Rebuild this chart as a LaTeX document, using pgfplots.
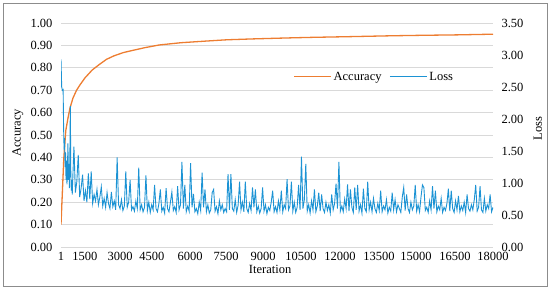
\documentclass[border=0pt]{standalone}
\usepackage{fontspec}
\setmainfont{Liberation Serif}
\usepackage{pgfplots}
\pgfplotsset{compat=1.18}

\definecolor{accorange}{HTML}{ED7D31}
\definecolor{lossblue}{HTML}{1C93D4}
\definecolor{gridgray}{HTML}{D9D9D9}
\definecolor{framegray}{HTML}{8C8C8C}

\pgfplotsset{
  base/.style={
    scale only axis,
    width=432bp, height=224bp,
    at={(61bp,47bp)}, anchor=south west,
    xmin=1, xmax=18000,
    scaled x ticks=false, scaled y ticks=false,
    axis line style={draw=none},
    tick style={draw=none},
    /pgf/number format/assume math mode=true,
    /pgf/number format/.cd, fixed, fixed zerofill, precision=2,
  },
}

\begin{document}
\begin{tikzpicture}[font=\fontsize{12.5bp}{14bp}\selectfont]
\useasboundingbox (0bp,0bp) rectangle (550bp,294bp);
\draw[framegray, line width=0.9bp] (3bp,8bp) rectangle (547bp,291bp);

% primary axis: accuracy
\begin{axis}[
  base,
  ymin=0, ymax=1,
  ytick={0,0.1,...,1.0},
  ymajorgrids,
  grid style={gridgray, line width=0.8bp},
  xtick={1,1000,2460,3790,5380,6880,8420,10000,11620,13250,14790,16420,18000},
  xticklabels={1,1500,3000,4500,6000,7500,9000,10500,12000,13500,15000,16500,18000},
  xticklabel shift=2bp,
  yticklabel shift=5bp,
  xlabel={Iteration},
  ylabel={Accuracy},
  every axis x label/.style={at={(axis description cs:0.484,-0.1)}, anchor=center},
  every axis y label/.style={at={(axis description cs:-0.1,0.51)}, rotate=90, anchor=center},
]
\addplot[accorange, line width=1.3bp] coordinates {
  (1,0.10)(60,0.25)(120,0.40)(200,0.52)(300,0.58)(375,0.62)(500,0.665)
  (650,0.70)(800,0.725)(1000,0.755)(1300,0.79)(1600,0.815)(1900,0.838)
  (2200,0.853)(2600,0.868)(3000,0.878)(3500,0.89)(4100,0.902)(5000,0.912)
  (6000,0.919)(6900,0.925)(8000,0.929)(9000,0.932)(9700,0.934)(10500,0.936)
  (12000,0.939)(13800,0.943)(15000,0.945)(16500,0.947)(18000,0.95)
};
\end{axis}

% secondary axis: loss
\begin{axis}[
  base,
  ymin=0, ymax=3.5,
  ytick={0,0.5,...,3.5},
  xtick=\empty,
  yticklabel pos=right,
  yticklabel shift=5bp,
  ylabel={Loss},
  every axis y label/.style={at={(axis description cs:1.104,0.53)}, rotate=90, anchor=center},
  legend columns=2,
  legend style={at={(axis description cs:0.725,0.76)}, anchor=center,
    draw=none, fill=none, inner sep=0pt,
    /tikz/every even column/.append style={column sep=6bp}},
  legend image code/.code={\draw[#1] (0bp,0bp) -- (37bp,0bp);},
]
\addlegendimage{accorange, line width=1.3bp}
\addlegendentry{Accuracy}
\addplot[lossblue, line width=0.9bp] coordinates {
  (1,2.93)(30,2.50)(60,2.45)(90,2.46)(110,1.85)(130,1.52)(150,1.70)(170,1.25)
  (190,1.48)(210,1.05)(230,1.35)(250,0.98)(270,1.22)(290,1.62)(310,1.05)(330,1.30)
  (350,0.92)(370,1.40)(390,2.20)(410,1.15)(430,0.88)(450,1.05)(470,0.82)
  (480,0.95)(540,1.57)(600,0.85)(660,1.02)(720,1.44)(780,0.78)(840,0.92)(900,1.13)(960,0.72)(1020,0.88)
  (1080,0.70)(1140,1.15)(1200,0.75)(1260,1.18)(1320,0.68)(1380,0.82)(1440,0.72)(1500,0.90)(1560,0.66)(1620,0.78)
  (1680,0.94)(1740,0.64)(1800,0.76)(1860,0.62)(1920,0.85)(1980,0.68)(2040,0.60)(2100,0.86)(2160,0.63)(2220,0.72)
  (2280,0.58)(2340,1.40)(2400,0.66)(2460,0.60)(2520,0.74)(2580,0.57)(2640,0.64)(2700,1.18)(2760,0.62)(2820,0.70)
  (2880,1.05)(2940,0.58)(3000,0.63)(3060,0.56)(3120,0.72)(3180,0.60)(3240,1.24)(3300,0.58)(3360,0.66)(3420,0.55)
  (3480,0.62)(3540,1.12)(3600,0.57)(3660,0.70)(3720,0.54)(3780,0.66)(3840,0.58)(3900,0.97)(3960,0.60)(4020,0.55)
  (4080,0.68)(4140,0.90)(4200,0.56)(4260,0.62)(4320,0.53)(4380,0.92)(4440,0.60)(4500,0.55)(4560,0.70)(4620,0.86)
  (4680,0.57)(4740,0.63)(4800,0.54)(4860,0.95)(4920,0.58)(4980,0.66)(5040,1.33)(5100,0.60)(5160,0.97)(5220,0.55)
  (5280,0.64)(5340,0.56)(5400,1.31)(5460,0.62)(5520,0.83)(5580,0.55)(5640,0.60)(5700,0.52)(5760,0.70)(5820,0.57)
  (5880,1.16)(5940,0.62)(6000,0.90)(6060,0.55)(6120,0.66)(6180,0.53)(6240,0.58)(6300,0.85)(6360,0.90)(6420,0.56)
  (6480,0.63)(6540,0.52)(6600,0.72)(6660,0.58)(6720,0.66)(6780,0.54)(6840,0.60)(6900,0.55)(6960,1.14)(7020,0.58)
  (7080,1.14)(7140,0.60)(7200,0.56)(7260,0.74)(7320,0.54)(7380,0.65)(7440,1.02)(7500,0.58)(7560,0.70)(7620,0.55)
  (7680,1.02)(7740,0.60)(7800,0.54)(7860,0.68)(7920,0.57)(7980,0.93)(8040,0.62)(8100,0.90)(8160,0.55)(8220,0.64)
  (8280,0.53)(8340,0.60)(8400,0.93)(8460,0.56)(8520,0.66)(8580,0.52)(8640,0.62)(8700,0.57)(8760,0.70)(8820,0.88)
  (8880,0.55)(8940,0.63)(9000,0.54)(9060,0.72)(9120,0.58)(9180,0.88)(9240,0.55)(9300,0.66)(9360,0.60)(9420,1.06)
  (9480,0.58)(9540,0.64)(9600,1.02)(9660,0.56)(9720,0.70)(9780,0.54)(9840,0.62)(9900,0.97)(9960,0.58)(10020,1.41)
  (10080,0.60)(10140,0.74)(10200,1.30)(10260,0.56)(10320,0.66)(10380,0.53)(10440,0.72)(10500,0.58)(10560,0.90)(10620,0.55)
  (10680,0.64)(10740,0.85)(10800,0.56)(10860,0.82)(10920,0.60)(10980,0.54)(11040,0.70)(11100,0.57)(11160,0.66)(11220,0.53)
  (11280,0.82)(11340,0.58)(11400,0.68)(11460,0.99)(11520,0.60)(11580,1.33)(11640,0.56)(11700,0.64)(11760,0.55)(11820,0.75)
  (11880,0.60)(11940,0.98)(12000,0.56)(12060,0.90)(12120,0.62)(12180,0.54)(12240,0.93)(12300,0.58)(12360,0.97)(12420,0.56)
  (12480,0.66)(12540,0.53)(12600,0.91)(12660,0.60)(12720,0.55)(12780,1.02)(12840,0.58)(12900,0.70)(12960,0.55)(13020,0.76)
  (13080,0.60)(13140,0.54)(13200,0.68)(13260,0.57)(13320,0.88)(13380,0.55)(13440,0.64)(13500,0.58)(13560,0.74)(13620,0.53)
  (13680,0.62)(13740,0.56)(13800,0.85)(13860,0.58)(13920,0.74)(13980,0.55)(14040,0.66)(14100,0.60)(14160,0.54)(14220,0.78)
  (14280,0.93)(14340,0.57)(14400,0.82)(14460,0.60)(14520,0.54)(14580,0.70)(14640,0.58)(14700,0.64)(14760,0.97)(14820,0.56)
  (14880,0.66)(14940,0.55)(15000,0.78)(15060,0.97)(15120,0.93)(15180,0.57)(15240,0.62)(15300,0.54)(15360,0.72)(15420,0.58)
  (15480,0.95)(15540,0.60)(15600,0.88)(15660,0.55)(15720,0.64)(15780,0.58)(15840,0.76)(15900,0.54)(15960,0.62)(16020,0.57)
  (16080,0.68)(16140,0.91)(16200,0.56)(16260,0.88)(16320,0.60)(16380,0.54)(16440,0.72)(16500,0.58)(16560,0.80)(16620,0.55)
  (16680,0.64)(16740,0.57)(16800,0.70)(16860,0.54)(16920,0.82)(16980,0.60)(17040,0.56)(17100,0.66)(17160,0.58)(17220,0.74)
  (17280,0.97)(17340,0.56)(17400,0.62)(17460,0.95)(17520,0.58)(17580,0.54)(17640,0.76)(17700,0.56)(17760,0.66)(17820,0.60)
  (17880,0.82)(17940,0.55)(18000,0.62)
};
\addlegendentry{Loss}
\end{axis}
\end{tikzpicture}
\end{document}
